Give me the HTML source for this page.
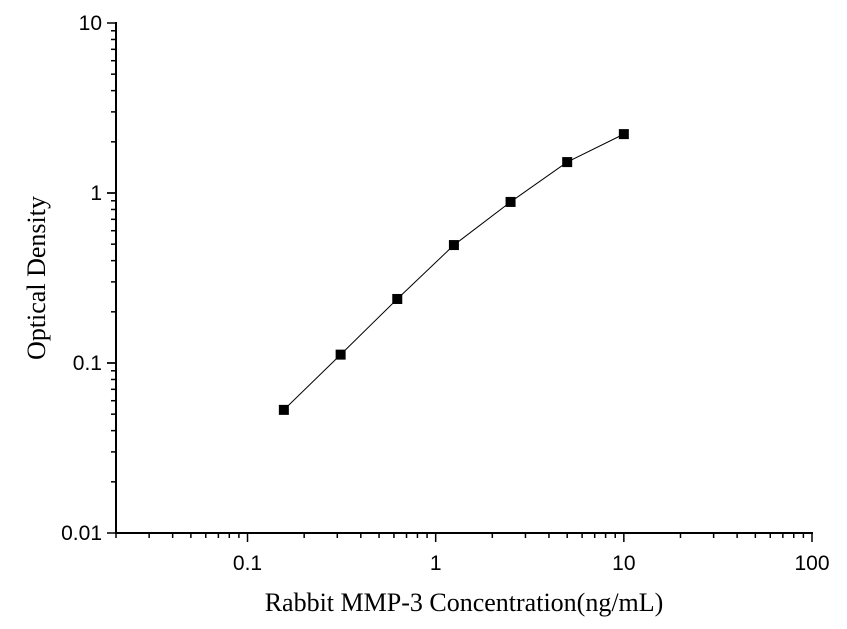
<!DOCTYPE html>
<html><head><meta charset="utf-8"><style>
body{margin:0;background:#fff;}
svg{display:block;font-family:"Liberation Sans",Arial,sans-serif;}
</style></head><body>
<svg width="847" height="629" id="chart"></svg>
<script>
const concentrations=[0.156,0.3125,0.625,1.25,2.5,5,10];
const odValues=[0.053,0.112,0.238,0.494,0.886,1.52,2.22];
const xTickLabels=["0.1","1","10","100"];
const xTickValues=[0.1,1,10,100];
const yTickLabels=["0.01","0.1","1","10"];
const yTickValues=[0.01,0.1,1,10];

const L=116,R=812,T=23,B=533;
const xMin=Math.log10(0.02),xMax=2,yMin=-2,yMax=1;
const xs=v=>L+(Math.log10(v)-xMin)/(xMax-xMin)*(R-L);
const ys=v=>B-(Math.log10(v)-yMin)/(yMax-yMin)*(B-T);
const NS="http://www.w3.org/2000/svg";
const svg=document.getElementById('chart');
function mk(tag,attrs,parent){const e=document.createElementNS(NS,tag);for(const k in attrs)e.setAttribute(k,attrs[k]);(parent||svg).appendChild(e);return e;}

const axes=mk('g',{});


const xAxis=mk('line',{x1:L,y1:B,x2:R+1,y2:B,stroke:'#000','stroke-width':2},axes);


const yAxis=mk('line',{x1:L,y1:T-1,x2:L,y2:B+1,stroke:'#000','stroke-width':2},axes);



for(let d=-2;d<=1;d++){for(let m=1;m<=9;m++){const v=m*Math.pow(10,d);if(v<0.02-1e-9||v>100)continue;
 const x=xs(v);const t=mk('line',{x1:x,y1:B,x2:x,y2:B+(m===1?9:5),stroke:'#000','stroke-width':1.5},axes);
 
 }}
const x100=xs(100);
const t100=mk('line',{x1:x100,y1:B,x2:x100,y2:B+9,stroke:'#000','stroke-width':1.5},axes);


xTickValues.forEach((v,i)=>{const t=mk('text',{x:xs(v),y:B+37,'text-anchor':'middle','font-size':21,fill:'#000'},axes);t.textContent=xTickLabels[i];
 
 });
for(let d=-2;d<=0;d++){for(let m=1;m<=10;m++){const v=m*Math.pow(10,d);
 const y=ys(v);const t=mk('line',{x1:L,y1:y,x2:L-(m===1||m===10?9:5),y2:y,stroke:'#000','stroke-width':1.5},axes);
 
 }}
yTickValues.forEach((v,i)=>{const t=mk('text',{x:L-14,y:ys(v)+7,'text-anchor':'end','font-size':21,fill:'#000'},axes);t.textContent=yTickLabels[i];
 
 });

const xt=mk('text',{x:464,y:611,'text-anchor':'middle','font-size':26,fill:'#000','font-family':'Liberation Serif,serif'});
xt.textContent='Rabbit MMP-3 Concentration(ng/mL)';


const yt=mk('text',{x:0,y:0,'text-anchor':'middle','font-size':26,fill:'#000','font-family':'Liberation Serif,serif',transform:'translate(45,278) rotate(-90)'});
yt.textContent='Optical Density';



const line=mk('polyline',{points:concentrations.map((c,i)=>xs(c)+','+ys(odValues[i])).join(' '),fill:'none',stroke:'#000','stroke-width':1});


concentrations.forEach((c,i)=>{const p=mk('rect',{x:xs(c)-5,y:ys(odValues[i])-5,width:10,height:10,fill:'#000'});
 
 });
</script>
</body></html>
